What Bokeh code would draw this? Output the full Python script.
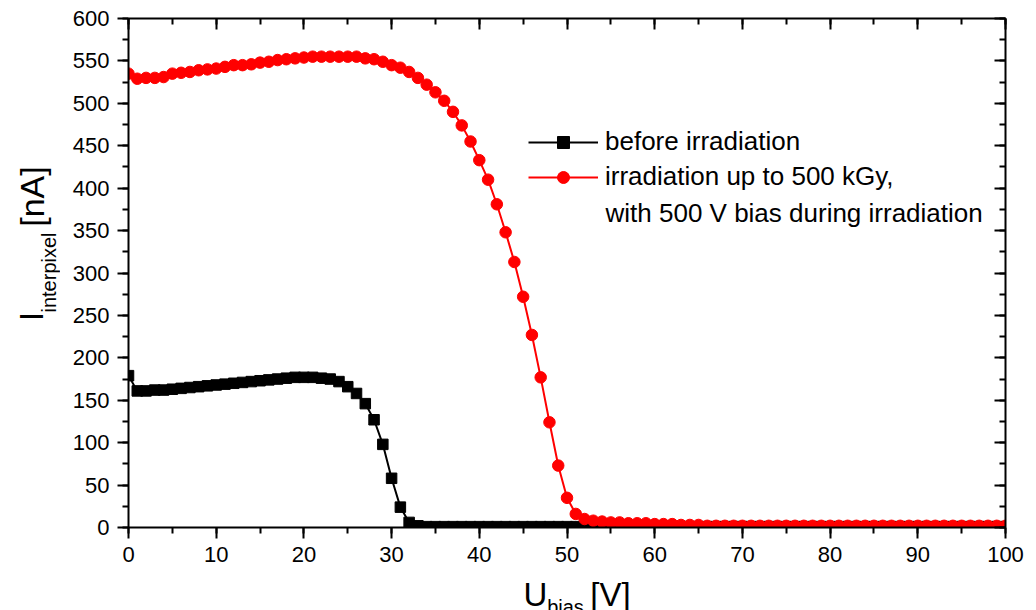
import math
from bokeh.plotting import figure
from bokeh.layouts import column, row
from bokeh.models import (LinearAxis, Legend, LegendItem, Label, Range1d,
                          SingleIntervalTicker, CustomJSTickFormatter)
from bokeh.core.properties import value
from bokeh.embed import file_html
from bokeh.resources import INLINE

# ---- data ----
u_bias = list(range(0, 101))

before_irr = [179, 161, 161, 162, 162, 163, 164, 165, 166, 167,
              168, 169, 170, 171, 172, 173, 174, 175, 176, 177,
              177, 177, 176, 175, 172, 166, 158, 146, 127, 98,
              58, 24, 6, 2, 1, 1, 1, 1, 1, 1,
              1, 1, 1, 1, 1, 1, 1, 1, 1, 1,
              1, 1, 1, 1, 1, 1, 1, 1, 1, 1,
              1, 1, 1, 1, 1, 1, 1, 1, 1, 1,
              1, 1, 1, 1, 1, 1, 1, 1, 1, 1,
              1, 1, 1, 1, 1, 1, 1, 1, 1, 1,
              1, 1, 1, 1, 1, 1, 1, 1, 1, 1,
              1]

after_irr = [535, 529, 530, 530, 531, 535, 536, 537, 539, 540,
             541, 543, 545, 545, 546, 548, 549, 551, 552, 553,
             554, 555, 555, 555, 555, 555, 555, 553, 552, 549,
             545, 542, 537, 530, 522, 513, 503, 490, 474, 455,
             433, 410, 381, 348, 313, 272, 227, 177, 124, 73,
             35, 16, 10, 8, 7, 6, 6, 5, 5, 5,
             4, 4, 4, 3, 3, 3, 2, 2, 2, 2,
             2, 2, 2, 2, 2, 2, 2, 2, 2, 2,
             2, 2, 2, 2, 2, 2, 2, 2, 2, 2,
             2, 2, 2, 2, 2, 2, 2, 2, 2, 2,
             2]

label_before = "before irradiation"
label_after_1 = "irradiation up to 500 kGy,"
label_after_2 = "with 500 V bias during irradiation"

y_title_parts = ["I", "interpixel", "[nA]"]
x_title_parts = ["U", "bias", "[V]"]

FONT = "Liberation Sans"
LEFT_W = 60
MAIN_H = 580
BOTTOM_H = 30
FRAME_TOP = 18
FRAME_BOTTOM = 527

# ---- main plot ----
p = figure(width=1036 - LEFT_W, height=MAIN_H, x_range=Range1d(0, 100), y_range=Range1d(0, 600),
           output_backend="svg", toolbar_location=None,
           min_border_left=128 - LEFT_W, min_border_right=31, min_border_top=FRAME_TOP,
           min_border_bottom=MAIN_H - FRAME_BOTTOM)
p.grid.visible = False
p.outline_line_color = None
p.background_fill_color = "white"
p.border_fill_color = "white"

p.xaxis.ticker = SingleIntervalTicker(interval=10, num_minor_ticks=2)
p.yaxis.ticker = SingleIntervalTicker(interval=50, num_minor_ticks=2)

def style(ax, inside):
    ax.axis_line_width = 2
    ax.axis_line_color = "black"
    ax.major_tick_line_width = 2
    ax.minor_tick_line_width = 2
    ax.major_tick_line_color = "black"
    ax.minor_tick_line_color = "black"
    if inside:
        ax.major_tick_in, ax.major_tick_out = 11, 0
        ax.minor_tick_in, ax.minor_tick_out = 6, 0
    else:
        ax.major_tick_in, ax.major_tick_out = 0, 11
        ax.minor_tick_in, ax.minor_tick_out = 0, 6
    ax.major_label_text_font = FONT
    ax.major_label_text_font_size = "22px"
    ax.major_label_text_color = "black"

for ax in p.xaxis:
    style(ax, False)
    ax.major_label_standoff = 8
for ax in p.yaxis:
    style(ax, False)
    ax.major_label_standoff = 8

top = LinearAxis(ticker=SingleIntervalTicker(interval=10, num_minor_ticks=2),
                 formatter=CustomJSTickFormatter(code="return ''"))
right = LinearAxis(ticker=SingleIntervalTicker(interval=50, num_minor_ticks=2),
                   formatter=CustomJSTickFormatter(code="return ''"))
for ax in (top, right):
    style(ax, True)
    ax.major_label_standoff = 0
    ax.major_label_text_font_size = "1px"
p.add_layout(top, "above")
p.add_layout(right, "right")

# ---- series ----
bl = p.line(u_bias, before_irr, line_color="black", line_width=2)
bs = p.scatter(u_bias, before_irr, marker="square", size=10.5,
               fill_color="black", line_color="black")
rl = p.line(u_bias, after_irr, line_color="red", line_width=2)
rs = p.scatter(u_bias, after_irr, marker="circle", size=11.5,
               fill_color="red", line_color="red")

legend = Legend(items=[LegendItem(label=label_before, renderers=[bl, bs]),
                       LegendItem(label=label_after_1, renderers=[rl, rs])],
                location=(400, 335), orientation="vertical",
                glyph_width=70, glyph_height=30, label_height=30,
                label_standoff=7, spacing=4, padding=0, margin=0,
                border_line_color=None, background_fill_alpha=0,
                label_text_font=FONT, label_text_font_size="26px",
                label_text_color="black")
p.add_layout(legend, "center")

p.add_layout(Label(x=477, y=315, x_units="screen", y_units="screen",
                   text=label_after_2, text_font=FONT, text_font_size="26px",
                   text_color="black", text_baseline="middle"))

def strip(w, h, top=0, bottom=0):
    f = figure(width=w, height=h, x_range=Range1d(0, w), y_range=Range1d(0, h - top - bottom),
               output_backend="svg", toolbar_location=None,
               x_axis_type=None, y_axis_type=None,
               min_border=0, min_border_left=0, min_border_right=0,
               min_border_top=top, min_border_bottom=bottom)
    f.grid.visible = False
    f.outline_line_color = None
    return f

# ---- y title panel (left strip); frame matches the main frame vertically ----
yfig = strip(LEFT_W, MAIN_H, top=FRAME_TOP, bottom=MAIN_H - FRAME_BOTTOM)
ang = math.pi / 2
yfig.text(x=[31], y=[FRAME_BOTTOM - 316], text=[y_title_parts[0]], angle=ang,
          text_font=value(FONT), text_font_size="33px", text_color="black",
          text_align="center", text_baseline="middle")
yfig.text(x=[48], y=[FRAME_BOTTOM - 272], text=[y_title_parts[1]], angle=ang,
          text_font=value(FONT), text_font_size="20px", text_color="black",
          text_align="center", text_baseline="middle")
yfig.text(x=[31], y=[FRAME_BOTTOM - 196], text=[y_title_parts[2]], angle=ang,
          text_font=value(FONT), text_font_size="34px", text_color="black",
          text_align="center", text_baseline="middle")

# ---- x title panel (bottom strip) ----
xfig = strip(1036, BOTTOM_H)
xfig.text(x=[535], y=[610 - 594], text=[x_title_parts[0]],
          text_font=value(FONT), text_font_size="33px", text_color="black",
          text_align="center", text_baseline="middle")
xfig.text(x=[565], y=[610 - 606], text=[x_title_parts[1]],
          text_font=value(FONT), text_font_size="20px", text_color="black",
          text_align="center", text_baseline="middle")
xfig.text(x=[610], y=[610 - 594], text=[x_title_parts[2]],
          text_font=value(FONT), text_font_size="33px", text_color="black",
          text_align="center", text_baseline="middle")

layout = column(row(yfig, p, spacing=0), xfig, spacing=0)

open("out.html", "w").write(file_html(layout, INLINE))
